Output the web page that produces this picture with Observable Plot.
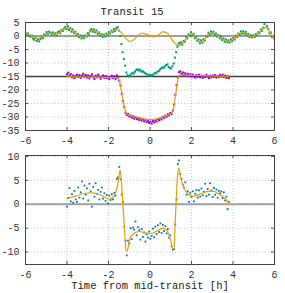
<!DOCTYPE html>
<html><head><meta charset="utf-8">
<script src="https://cdn.jsdelivr.net/npm/d3@7"></script>
<script src="https://cdn.jsdelivr.net/npm/@observablehq/plot@0.6"></script>
<style>
body{margin:0;background:#fff;}
#wrap{position:relative;width:285px;height:293px;font-family:"Liberation Mono",monospace;}
#title{position:absolute;top:6px;left:0;width:264px;text-align:center;font-size:10.5px;line-height:12px;color:#222;}
#xlabel{position:absolute;top:280px;left:0;width:300px;text-align:center;font-size:10.5px;line-height:12px;color:#222;}
#top svg,#bot svg{display:block;}
</style></head><body>
<div id="wrap"><div id="top"></div><div id="bot"></div>
<div id="title">Transit 15</div><div id="xlabel">Time from mid-transit [h]</div></div>
<script>
// ---- data ----
const cadence = 0.06;               // hours between samples
const greenStart = -6.0;
const greenVals = [
1.2,0.4,0.9,0.1,-0.3,0.2,-0.9,-1.4,-0.6,-1.8,
-1.2,-2.0,-1.1,-0.2,-0.8,0.6,0.3,1.5,0.8,1.6,
1.2,0.5,1.3,0.4,1.0,0.2,1.4,1.7,1.0,2.3,
1.9,2.8,3.4,2.6,3.6,2.2,2.9,1.6,2.4,1.1,
1.6,0.3,0.8,-0.4,0.2,-0.9,-0.1,-0.8,0.2,-0.2,
1.1,0.6,2.0,2.6,1.6,2.4,1.4,2.1,0.8,1.3,
0.1,0.7,-0.3,0.5,-0.2,0.9,0.3,1.4,0.9,2.0,
1.5,2.6,1.8,2.9,3.3,
2.0,0.0,-3.0,-6.0,-8.5,-11.0,-13.5,-14.5,-15.0,-14.6,
-14.0,-13.6,-13.9,-13.2,-12.6,-12.3,-12.8,-12.5,-13.2,-13.0,
-13.4,-13.8,-14.0,-14.3,-14.6,-14.4,-14.7,-14.5,-14.2,-13.6,
-13.8,-13.2,-13.0,-12.4,-12.0,-11.6,-11.8,-11.2,-10.8,-10.5,
-11.5,-11.8,-12.0,-11.2,-10.2,-8.0,-6.0,-4.0,-2.8,-2.5,
-2.4,-3.2,-1.8,-2.1,-0.4,-0.9,0.6,0.1,1.4,0.3,
0.8,-0.8,-0.3,-1.8,-1.3,-2.7,-1.6,-2.5,-1.2,-1.7,
0.0,-0.3,1.2,0.6,1.7,0.9,1.5,0.4,0.9,-0.2,
0.3,-0.9,-0.2,-1.5,-0.9,-2.1,-1.3,-2.3,-1.6,-2.4,
-1.2,-1.9,-0.8,-1.3,0.1,-0.4,0.9,0.4,1.7,0.9,
1.8,0.8,1.5,0.3,0.8,-0.4,0.3,-0.5,0.2,-0.4,
0.7,0.2,1.4,1.0,2.4,1.9,3.1,4.4,5.2,3.6,
2.6,1.0,1.3,-0.4,-0.2,-1.0];

const trendT = [-6.0,-5.8,-5.6,-5.4,-5.2,-5.0,-4.8,-4.6,-4.4,-4.2,-4.0,-3.8,-3.6,-3.4,-3.2,-3.0,-2.8,-2.6,-2.4,-2.2,-2.0,-1.8,-1.6,-1.4,-1.2,-1.0,-0.8,-0.6,-0.4,-0.2,0.0,0.2,0.4,0.6,0.8,1.0,1.2,1.4,1.6,1.8,2.0,2.2,2.4,2.6,2.8,3.0,3.2,3.4,3.6,3.8,4.0,4.2,4.4,4.6,4.8,5.0,5.2,5.4,5.6,5.8,6.0];
const trendV = [0.9,0.4,-0.6,-1.0,-0.3,0.9,1.0,0.5,1.0,2.2,3.0,2.3,1.0,-0.2,-0.6,0.6,2.0,1.7,0.5,0.1,0.9,1.9,2.4,1.4,-0.6,-2.0,-1.5,0.0,1.1,0.7,0.1,-0.3,0.4,1.5,1.2,-0.6,-2.8,-3.6,-2.4,-0.3,0.9,-0.6,-2.2,-1.6,0.6,1.3,0.5,-0.6,-1.6,-2.0,-1.3,0.0,1.3,1.2,0.0,-0.2,0.8,2.3,3.2,1.0,-1.3];

const purpleStart = -4.0;
const purpleVals = [
-14.2,-13.6,-14.8,-14.1,-15.3,-14.6,-15.6,-14.9,-14.3,-15.2,
-14.5,-15.5,-14.7,-14.0,-15.0,-14.4,-15.4,-14.6,-15.7,-14.9,
-14.2,-15.1,-15.9,-14.7,-15.3,-14.3,-15.0,-15.8,-15.2,-14.6,
-15.5,-14.8,-15.6,-15.1,-16.0,-15.3,-14.7,-15.6,-15.0,-15.9,
-14.6,-15.4,-16.6,-18.3,-21.4,-24.1,-26.3,-28.4,-29.3,-28.9,
-29.8,-29.4,-30.2,-29.7,-30.6,-30.0,-30.8,-30.3,-31.1,-30.5,
-31.3,-30.8,-31.6,-31.0,-31.9,-31.4,-32.2,-31.7,-32.4,-31.5,
-32.0,-31.2,-31.7,-30.8,-31.2,-30.4,-30.9,-29.9,-30.3,-29.5,
-29.9,-29.0,-29.4,-28.5,-28.9,-27.6,-25.4,-21.8,-18.2,-15.3,
-13.4,-13.1,-14.0,-13.5,-14.4,-13.8,-14.6,-14.0,-14.8,-14.2,
-15.0,-14.3,-14.9,-15.4,-14.5,-15.1,-14.4,-15.3,-14.7,-15.5,
-14.8,-15.2,-14.4,-15.0,-15.6,-14.7,-15.3,-14.6,-15.1,-14.5,
-15.4,-14.8,-15.2,-14.4,-15.0,-14.3,-15.1,-14.7,-15.5,-14.9,
-15.6];

const modelT = [-4.0,-3.0,-2.0,-1.56,-1.50,-1.44,-1.38,-1.32,-1.26,-1.20,-1.14,-1.08,-0.8,-0.5,-0.2,0.0,0.2,0.5,0.8,1.0,1.08,1.14,1.20,1.26,1.32,1.38,1.44,2.5,3.8];
const modelV = [-15.1,-15.2,-15.3,-15.5,-15.9,-17.6,-20.4,-23.0,-25.4,-27.4,-28.7,-29.1,-29.7,-30.4,-30.9,-31.0,-30.9,-30.3,-29.5,-28.8,-28.3,-26.6,-23.6,-20.4,-17.2,-14.8,-14.5,-14.7,-15.0];

const blueStart = -4.0;
const blueVals = [
-0.5,1.3,3.4,0.6,2.1,0.3,2.8,1.0,0.5,3.5,
1.4,2.5,4.8,1.2,3.9,2.0,3.3,0.8,4.3,2.7,
-0.5,3.6,1.6,4.4,2.2,3.0,1.0,2.6,3.5,1.2,
2.3,0.7,1.9,0.2,1.8,0.9,2.1,1.0,2.4,1.8,
5.3,5.6,7.8,5.2,2.0,0.5,-4.7,-7.6,-10.7,-7.6,
-8.2,-5.0,-7.3,-4.9,-5.3,-3.6,-6.5,-4.8,-5.4,-7.4,
-5.2,-6.8,-5.9,-7.8,-6.3,-7.0,-5.7,-7.2,-6.6,-5.1,
-6.9,-4.7,-6.2,-4.4,-5.8,-4.0,-6.0,-4.3,-5.6,-4.6,
-6.1,-5.2,-7.0,-6.5,-8.8,-9.5,-9.4,-4.2,1.0,8.4,
9.2,6.3,5.3,4.1,3.5,4.6,2.0,2.7,0.5,2.4,
1.5,2.7,0.6,2.2,3.0,1.4,2.9,1.6,3.3,1.9,
2.6,4.3,1.7,3.2,2.0,4.4,2.9,1.5,3.4,2.0,
3.1,1.4,2.8,2.3,2.7,1.3,2.5,0.8,1.6,-1.0,
0.5];

const fitT = [-4.0,-3.6,-3.2,-2.8,-2.4,-2.0,-1.8,-1.6,-1.5,-1.44,-1.38,-1.32,-1.26,-1.20,-1.14,-1.08,-1.0,-0.9,-0.7,-0.5,-0.2,0.0,0.2,0.4,0.6,0.8,0.9,1.0,1.08,1.14,1.20,1.26,1.32,1.38,1.44,1.5,1.6,1.8,2.0,2.2,2.5,2.8,3.1,3.4,3.6,3.8];
const fitV = [1.2,1.7,2.2,2.4,2.0,1.1,1.4,3.2,5.5,7.2,5.0,1.0,-3.0,-7.2,-9.8,-9.5,-7.6,-6.6,-5.9,-5.7,-6.0,-6.1,-5.9,-5.4,-5.0,-5.4,-6.2,-7.6,-9.2,-9.4,-5.0,0.5,5.5,7.6,6.6,5.2,3.8,2.3,1.7,1.8,2.3,2.7,2.7,1.9,1.3,0.2];

const xTicks = [-6,-4,-2,0,2,4,6];
const topYTicks = [5,0,-5,-10,-15,-20,-25,-30,-35];
const botYTicks = [10,5,0,-5,-10];
const topRefLines = [0];
const offsetLine = [-15];

// ---- helpers ----
const series = (t0, vals) => vals.map((v, i) => ({t: t0 + i * cadence, v}));
const pairs = (ts, vs) => ts.map((t, i) => ({t, v: vs[i]}));
const fmt = d => String(d);

const C = {green:"#009e73", purple:"#9400d3", blue:"#0072b2", orange:"#e69f00"};
const style = {fontFamily:"'Liberation Mono', monospace", fontSize:"10px", color:"#333", background:"#fff", overflow:"visible"};

function frameMarks(yTicks, frameH) {
  return [
    Plot.gridX(xTicks, {stroke:"#c8c8c8", strokeOpacity:1, strokeDasharray:"1,2"}),
    Plot.gridY(yTicks, {stroke:"#c8c8c8", strokeOpacity:1, strokeDasharray:"1,2"}),
    Plot.axisX(xTicks, {tickSize:0, tickPadding:6, tickFormat:fmt, label:null, fill:"#333"}),
    Plot.axisY(yTicks, {tickSize:0, tickPadding:6, tickFormat:fmt, label:null, fill:"#333"}),
    Plot.tickX(xTicks, {x:d=>d, stroke:"#555", insetBottom:frameH-3}),
    Plot.tickX(xTicks, {x:d=>d, stroke:"#555", insetTop:frameH-3}),
  ];
}

// ---- top panel ----
const topFrameH = 108;
const topPlot = Plot.plot({
  width:285, height:145, marginLeft:25, marginRight:11, marginTop:22, marginBottom:15,
  style,
  x:{domain:[-6,6]}, y:{domain:[-35,5]},
  marks:[
    ...frameMarks(topYTicks, topFrameH),
    Plot.tickY(topYTicks, {y:d=>d, stroke:"#555", insetRight:249-3}),
    Plot.tickY(topYTicks, {y:d=>d, stroke:"#555", insetLeft:249-3}),
    Plot.ruleY(topRefLines, {stroke:"#a0a0a0", strokeWidth:2}),
    Plot.ruleY(offsetLine, {stroke:"#404040", strokeWidth:1.3}),
    Plot.dot(series(greenStart, greenVals), {x:"t", y:"v", fill:C.green, r:1.15, symbol:"square", clip:true}),
    Plot.line(pairs(trendT, trendV), {x:"t", y:"v", stroke:C.orange, strokeWidth:1.2, curve:"catmull-rom", clip:true}),
    Plot.dot(series(purpleStart, purpleVals), {x:"t", y:"v", fill:C.purple, r:1.15, symbol:"square"}),
    Plot.line(pairs(modelT, modelV), {x:"t", y:"v", stroke:C.orange, strokeWidth:1.2, curve:"monotone-x"}),
    Plot.frame({stroke:"#444"})
  ]
});
document.getElementById("top").append(topPlot);

// ---- bottom panel ----
const botFrameH = 109;
const botPlot = Plot.plot({
  width:285, height:148, marginLeft:25, marginRight:11, marginTop:10, marginBottom:29,
  style,
  x:{domain:[-6,6]}, y:{domain:[-12.6,10.2]},
  marks:[
    ...frameMarks(botYTicks, botFrameH),
    Plot.tickY(botYTicks, {y:d=>d, stroke:"#555", insetRight:249-3}),
    Plot.tickY(botYTicks, {y:d=>d, stroke:"#555", insetLeft:249-3}),
    Plot.ruleY(topRefLines, {stroke:"#a0a0a0", strokeWidth:2}),
    Plot.dot(series(blueStart, blueVals), {x:"t", y:"v", fill:C.blue, r:1.0, symbol:"square"}),
    Plot.line(pairs(fitT, fitV), {x:"t", y:"v", stroke:C.orange, strokeWidth:1.2, curve:"catmull-rom"}),
    Plot.frame({stroke:"#444"})
  ]
});
document.getElementById("bot").append(botPlot);
</script>
</body></html>
